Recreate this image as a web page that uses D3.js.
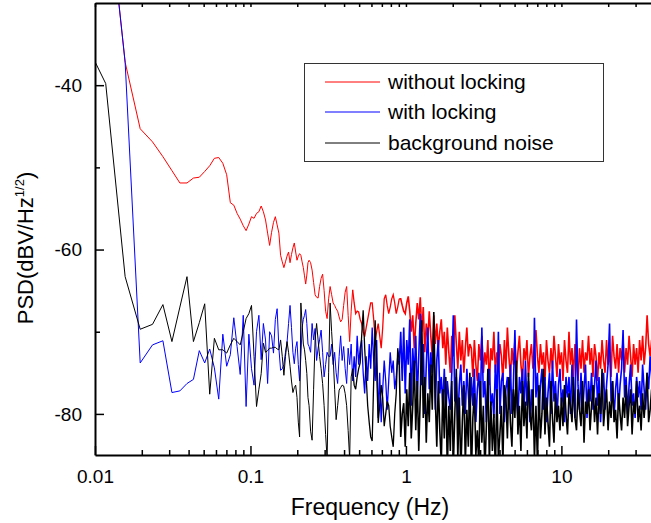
<!DOCTYPE html>
<html><head><meta charset="utf-8">
<script src="https://cdn.jsdelivr.net/npm/d3@7"></script>
<style>body{margin:0;background:#fff}svg{display:block}text{font-family:"Liberation Sans",Arial,sans-serif;fill:#000}</style>
</head><body><svg id="c" width="651" height="523"></svg>
<script>
// ---------------- data ----------------
const seriesNames = ["without locking", "with locking", "background noise"];
const seriesColors = ["#ff0000", "#0000ff", "#000000"];
const DF = 1 / 256;                       // FFT bin width (Hz)
const lowBins = d3.range(2, 61);          // individual bins at low frequency
const highStart = 61 / 256, highRatio = 1.0225, highCount = 231; // log-spaced grid above
const freqs = lowBins.map(k => k * DF)
  .concat(d3.range(highCount).map(i => highStart * Math.pow(highRatio, i)));

const xMajorTicks = [0.01, 0.1, 1, 10];
const xTickLabels = ["0.01", "0.1", "1", "10"];
const xMinorTicks = [0.02,0.03,0.04,0.05,0.06,0.07,0.08,0.09,0.2,0.3,0.4,0.5,0.6,0.7,0.8,0.9,2,3,4,5,6,7,8,9,20,30];
const yMajorTicks = [-80, -60, -40];
const yTickLabels = ["-80", "-60", "-40"];
const yMinorTicks = [-70, -50];

const redLow = [-5,-15,-37.2,-45.3,-46.9,-48.7,-50.4,-51.9,-51.9,-51.3,-51.2,-50.5,-49.8,-48.9,-48.8,-49.5,-50.9,-54.3,-54.6,-55.6,-56.3,-57.1,-57.7,-56.9,-56.0,-56.2,-55.6,-55.4,-54.7,-55.4,-56.4,-58.0,-59.5,-57.9,-56.7,-56.0,-57.0,-58.0,-60.7,-61.5,-62.2,-61.5,-60.8,-60.3,-61.6,-60.6,-59.8,-59.2,-60.3,-61.3,-60.8,-60.5,-60.7,-61.5,-62.2,-63.2,-64.2,-63.1,-61.6];
const redHigh = [-61.3,-61.6,-62.5,-64.0,-65.5,-65.8,-65.9,-64.5,-63.5,-63.0,-65,-67.5,-68.4,-66,-64.5,
-65.5,-66.5,-66.8,-67.2,-67.5,-68.2,-68.8,-68.5,-66.8,-65.2,-64.5,-68,-71.2,-67.5,-64.9,
-66.5,-67.8,-67.5,-67.6,-68.5,-69,-70,-70.6,-69.5,-68.5,-67.5,-66.5,-66.5,-68.5,-71,
-70,-69,-70.5,-72,-69.5,-66,-65.5,-66.8,-67.8,-67,-66,-65.5,-66.5,-67.8,-67,
-66,-66,-66.8,-67.5,-67.8,-66.5,-65.7,
-67.5,-70,-68,-72,-69,-66.5,-68.5,-65.8,-70,-67,-72.5,-69,-71,-67.5,-70.5,-73,-68,-71.5,-69,-72,-70,
-68.5,-72,-70,-74,-69.5,-72.5,-75,-70.5,-73,-68,-71.5,-74.5,-70,-73.5,-71,-75,-72,-69.5,-73,-71.5,
-72,-75.5,-71,-74,-76,-71.5,-73.5,-70.5,-75,-72.5,
-74,-71,-76.5,-72,-73.5,-70,-75,-72.5,-74.5,-71.5,
-73,-76,-71,-74.5,-69.5,-73,-75.5,-72,-74,-71,
-75,-72.5,-70.5,-74,-76,-72,-73.5,-71,-75.5,-73,
-71.5,-74.5,-72,-69.8,-73,-75,-71.5,-74,-72.5,-76,
-71,-73.5,-75,-72,-74.5,-70.5,-73,-75.5,-71.5,-74,
-72.5,-76,-71,-73.5,-75,-70,-74,-72,-75.5,-71.5,
-73.5,-76,-72,-74.5,-71,-75,-72.5,-73.5,-70.5,-74,
-72,-75.5,-71.5,-73,-76,-72.5,-74.5,-71,-73.5,-75,
-71,-74,-72.5,-75.5,-70.5,-73,-74.5,-71.5,-75,-72,
-73.5,-71,-75,-72,-74,-70.5,-73,-75.5,-71.5,-74,
-72,-75,-71,-73.5,-70.5,-74,-72,-68,-71.5,-73,
-71,-74,-72];

const blueLow = [-5,-15,-37.2,-73.8,-71.6,-71.1,-77.4,-77.2,-76.3,-75.8,-72.3,-73.8,-72.1,-74.4,-78.2,-70.3,-74.2,-72.8,-68.3,-71.8,-75.2,-68,-79.1,-70.3,-74.5,-76.5,-70,-68,-73.4,-69,-71,-76.3,-70,-70.5,-72.6,-68.5,-67.2,-72,-74.7,-74.5,-74,-72.5,-71.3,-69,-66.8,-69.5,-72.5,-73.9,-72,-71.2,-74,-76,-73,-69.5,-68.5,-68,-67.3,-69,-71.5];
const blueHigh = [-71.8,-72.5,-69,-71,-69.6,-73.5,-72,-71,-69.8,-72.5,
-75.5,-74,-72.5,-73,-73,-71.5,-74,-72.5,-75,-76.3,
-73,-70.5,-73.5,-71.8,-74.5,-76.3,-72,-74,-71.5,-76,
-73,-75.5,-70.5,-74,-72,-71,-75,-77.5,-73,-76,
-71.5,-74.5,-69.5,-73.5,-76,-71,-80.5,-75,-81,-77,
-73.5,-76,-79.5,-76,-72.5,-75,-73.5,-77,-75.5,-73,
-74,
-70,-76,-69.5,-77.5,-71,-74,-68.5,-79,-72,-75.5,-70.5,-78,-73,-67.8,-76.5,-71.5,-80,-74,-69.5,-77,-72.5,-75,-70,-79.5,-73.5,-71,-77.5,
-75.5,-79,-74.5,-80.5,-76,-78,-79.5,-75,-68,-78.5,-75.5,-81,-76.5,-74,-79,-76,-80,-74.5,-77.5,-80.5,
-75.5,-79,-74.5,-81,-77,-75,-79.5,-69.5,-78,-76,-81,-76.5,-74.5,-79,-77.5,-80.5,-74,-78.5,-70,-80,
-76,-75,-81,-77,-75.5,-79.5,-74,-80,-76.5,-69.8,-78,-80.5,-75.5,-77.5,-74.5,-80,-73.5,-79,-76,-81,
-77,-80,-68.3,-78,-75,-80.5,-76.5,-74.5,-79.5,-75.5,
-81,-77.5,-75,-80,-73.5,-78.5,-76,-80.5,-76.5,-74.5,
-79,-77,-81,-75.5,-78,-75.5,-80,-74,-77.5,-80.5,
-68.5,-76.5,-79.5,-75,-80,-77,-74,-80.5,-76,-78.5,
-75,-79.5,-76.5,-73.5,-79,-75.5,-81,-77.5,-75,-79.5,
-76.5,-74,-69,-78.5,-76,-80.5,-77,-75,-79.5,-76.5,
-74.5,-69.8,-78,-75.5,-80,-76.5,-74,-79,-77.5,-80.5,
-75.5,-78,-76,-79.5,-74,-77,-79.5,-75,-77,-73,
-75.5,-78.5,-74.5];

const blackLow = [-33,-39.8,-63.3,-69.7,-69.1,-66.7,-71.2,-67.0,-63.3,-71.2,-68.9,-66.6,-77.6,-70.8,-72.2,-72.2,-72.6,-71.6,-70.8,-71.2,-71.6,-70,-68.4,-67.8,-66.8,-73,-79.1,-77,-75.1,-71.4,-72.5,-72.3,-72,-72,-71.9,-71.9,-72.1,-72.2,-71,-73,-75.3,-73,-71.2,-72.5,-74.2,-76,-77.4,-76.8,-76.5,-78,-81,-82.8,-66.5,-69,-71.5,-72.2,-73.5,-75.1,-78];
const blackHigh = [-79,-82.1,-83.2,-77,-71,-69,-71,-73,-74.5,-76.3,
-79,-82.5,-85.5,-75,-66.5,-70,-73,-77,-80.7,-79,
-77.1,-76.8,-76.5,-76.6,-77.5,-79,-82,-85.5,-75.5,-74.5,
-76.5,-77,-75.5,-74.5,-73.8,-70.5,-67.4,-72,-75.5,-79,
-81,-82.8,-83.3,-76,-68.6,-75,-81.1,-79,-76.5,-78,
-81.5,-80,-78.5,-79,-81.5,-82.8,-84,-80,-77.5,-72,
-73.5,
-82.8,-80,-78.7,-84,-77,-81.5,-75,-83,-79,-73.5,-82,-76,-84.5,-78,-68.6,-80.5,-75.5,-83.5,-77.5,-81,-74,-79.5,-67.6,-78,-84,-76,-82,
-86,-77,-83,-75.5,-87,-79,-84.5,-76,-86.5,-80,
-74.5,-85.5,-78,-87,-81,-76.5,-86,-79.5,-84,-75,
-87.5,-80.5,-77.5,-85,-82,-86.5,-76,-83.5,-79,-87,
-81.5,-74.5,-86,-78.5,-84.5,-80,-87,-77,-85.5,-82.5,
-79,-86,-76.5,
-78,-83,-75.5,-81,-84,-77,-80.5,-73.5,-82.5,-79,-84.5,-76,-81.5,-78.5,-83,-75,-80,
-82,-77,-85.5,-79,-86,-76.5,-83,-80,-74.5,-82.5,-78,-81,-84,-76,-80.5,-83.5,-77.5,-81,-79,-82,
-78,-81.5,-76.5,-80,-82.5,-77.5,-79,-81,-75.5,-80.5,
-82,-77,-79.5,-81.5,-76,-83.5,-78.5,-80,-77,-82,
-79,-76.5,-81,-78,-82.5,-77.5,-80,-74.5,-81.5,-79,
-77,-82,-78.5,-80.5,-76,-81,-79.5,-83,-77.5,-80,
-82,-78,-80.5,-76.5,-81.5,-79,-77,-82.5,-78.5,-80,
-76,-81,-79,-82,-77.5,-80.5,-78,-75,-81,-79.5,
-77,-80,-78];

const seriesValues = [redLow.concat(redHigh), blueLow.concat(blueHigh), blackLow.concat(blackHigh)];

// ---------------- chart ----------------
const svg = d3.select("#c");
const L = 95, T = 3, B = 455, R = 655;
const x = d3.scaleLog().domain([0.01, 40]).range([L, R]);
const y = d3.scaleLinear().domain([-85, -30]).range([B, T]);

svg.append("defs").append("clipPath").attr("id", "plot")
  .append("rect").attr("x", L).attr("y", T).attr("width", 651 - L).attr("height", B - T);

const line = d3.line().x(d => x(d[0])).y(d => y(d[1]));
const gSeries = svg.append("g").attr("clip-path", "url(#plot)");
// stroke weight grows with the trace density (frequency bands in Hz)
const bandEdges = [0.45, 0.9];
const bandWidths = [1, 1.3, 1.6];
seriesValues.forEach((vals, s) => {
  const n = Math.min(vals.length, freqs.length);
  const pts = d3.range(n).map(i => [freqs[i], vals[i]]);
  const cuts = [0].concat(bandEdges.map(e => pts.findIndex(p => p[0] >= e)), [n - 1]);
  bandWidths.forEach((w, b) => {
    const seg = pts.slice(cuts[b], cuts[b + 1] + 1);
    gSeries.append("path").datum(seg).attr("d", line)
      .attr("fill", "none").attr("stroke", seriesColors[s]).attr("stroke-width", w)
      .attr("stroke-linejoin", "miter");
  });
});

// axes
function styleAxis(g) {
  g.selectAll(".domain").attr("stroke", "#000").attr("stroke-width", 2);
  g.selectAll(".tick line").attr("stroke", "#000").attr("stroke-width", 1.5);
  g.selectAll("text").attr("font-size", 19).attr("font-family", '"Liberation Sans",Arial,sans-serif').attr("fill", "#000");
}
const gB = svg.append("g").attr("transform", `translate(0,${B})`)
  .call(d3.axisBottom(x).tickValues(xMajorTicks).tickSize(-9).tickSizeOuter(0)
    .tickFormat((d, i) => xTickLabels[i]).tickPadding(0));
styleAxis(gB);
gB.selectAll("text").attr("dy", null).attr("y", 28);
const gBm = svg.append("g").attr("transform", `translate(0,${B})`)
  .call(d3.axisBottom(x).tickValues(xMinorTicks).tickSize(-5).tickFormat(""));
gBm.select(".domain").remove(); styleAxis(gBm);
const gT = svg.append("g").attr("transform", `translate(0,${T})`)
  .call(d3.axisTop(x).tickValues(xMajorTicks.concat(xMinorTicks)).tickSize(-4).tickSizeOuter(0).tickFormat(""));
styleAxis(gT);
const gL = svg.append("g").attr("transform", `translate(${L},0)`)
  .call(d3.axisLeft(y).tickValues(yMajorTicks).tickSize(-9).tickSizeOuter(0)
    .tickFormat((d, i) => yTickLabels[i]).tickPadding(13));
styleAxis(gL);
const gLm = svg.append("g").attr("transform", `translate(${L},0)`)
  .call(d3.axisLeft(y).tickValues(yMinorTicks).tickSize(-5).tickFormat(""));
gLm.select(".domain").remove(); styleAxis(gLm);

// titles
svg.append("text").attr("x", 370).attr("y", 515).attr("text-anchor", "middle")
  .attr("font-size", 23).text("Frequency (Hz)");
const yt = svg.append("text").attr("transform", "translate(33,248) rotate(-90)")
  .attr("text-anchor", "middle").attr("font-size", 22);
yt.append("tspan").text("PSD(dBV/Hz");
yt.append("tspan").attr("dy", -9).attr("font-size", 13).text("1/2");
yt.append("tspan").attr("dy", 9).text(")");

// legend
const lg = svg.append("g");
lg.append("rect").attr("x", 304.5).attr("y", 63.5).attr("width", 299).attr("height", 98)
  .attr("fill", "#fff").attr("stroke", "#333").attr("stroke-width", 1);
const rowY = [82, 112, 143];
seriesNames.forEach((name, i) => {
  lg.append("line").attr("x1", 325).attr("x2", 380).attr("y1", rowY[i]).attr("y2", rowY[i])
    .attr("stroke", seriesColors[i]).attr("stroke-width", 1);
  lg.append("text").attr("x", 388).attr("y", rowY[i] + 7).attr("font-size", 21).text(name);
});
</script></body></html>
